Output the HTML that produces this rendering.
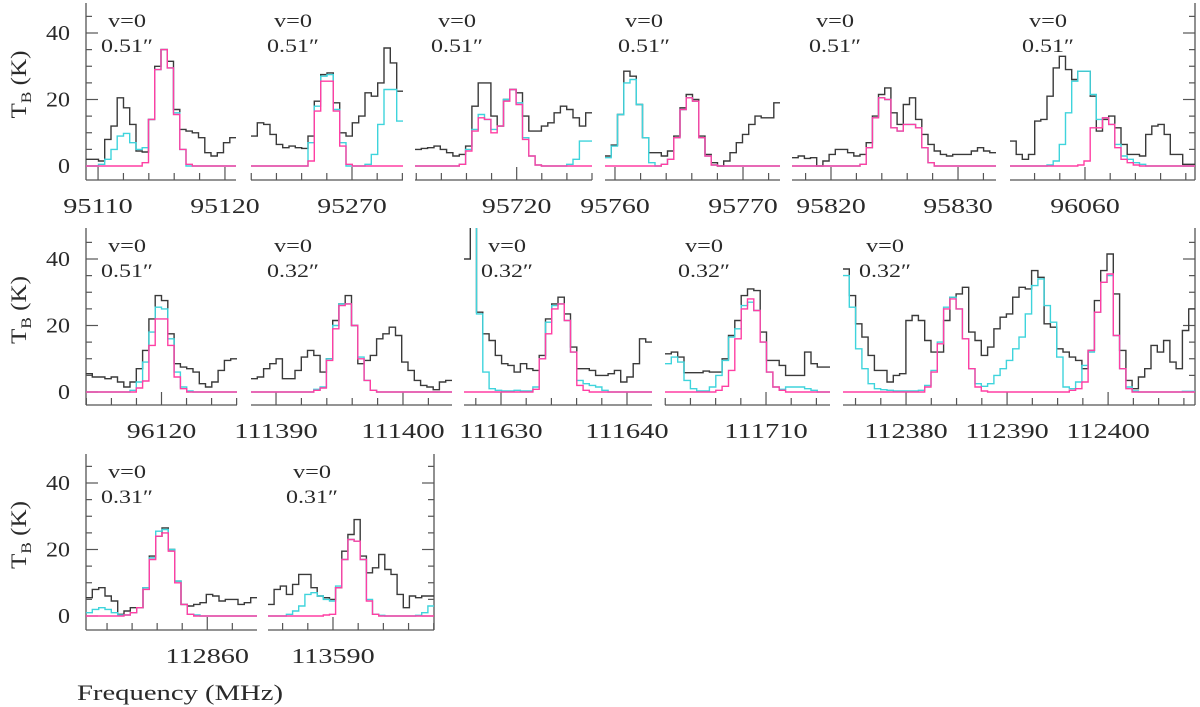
<!DOCTYPE html>
<html><head><meta charset="utf-8"><title>Spectra</title>
<style>html,body{margin:0;padding:0;background:#fff}svg{display:block}text{font-family:"Liberation Serif",serif;fill:#2a2a2a}</style>
</head><body>
<svg id="chart" width="1200" height="707" viewBox="0 0 1200 707" xmlns="http://www.w3.org/2000/svg">
<g id="axes-layer"></g>
<g id="data-layer"></g>
<g id="text-layer"></g>
<text x="77" y="700" font-size="22" textLength="206" lengthAdjust="spacingAndGlyphs">Frequency (MHz)</text>
</svg>
<script>
// ---- data (K) per panel: observed, cyan model, pink model ----
const r1p1Obs=[2,2,1.5,8,12,20.5,17.5,12.5,4.5,4.2,14,30,35,31.5,17,11,10.5,10,8.5,4,3,4,7,8.5];
const r1p1Cyan=[0,0,0.5,2,5,9,9.8,7,5,5.5,14,29,35,29.5,16,5,0,0,0,0,0,0,0,0];
const r1p1Pink=[0,0,0,0,0,0,0,0,0,1,14,29,35,29.5,15.5,5,0.5,0,0,0,0,0,0,0];
const r1p2Obs=[9,13,12.5,9.5,6.5,5.5,6,5.5,5.3,9,19.5,27.5,28,19,10,9,13,15,22,21,25,35.5,31,22.5];
const r1p2Cyan=[0,0,0,0,0,0,0,0,0,7,18,27,27.5,17,7,0,0,0,0.5,3.5,12.5,23,23,13.5];
const r1p2Pink=[0,0,0,0,0,0,0,0,0,1.5,16.5,25.5,25.5,16.5,6,0.5,0,0,0,0,0,0,0,0];
const r1p3Obs=[5,5.3,5.5,6,5,4,3,3.5,6,18,25,25,15,12,20,23,22,15,10.5,10.5,12,13,16,18,17,14.5,12,16];
const r1p3Cyan=[0,0,0,0,0,0,0,0.5,5,11,15.5,14,11,12,20,23,19,8.5,3,0.3,0,0,0,0,0.5,2,7.5,7.5];
const r1p3Pink=[0,0,0,0,0,0,0,0.5,4.5,10.5,14.5,14,10,12,19.5,23,18.5,8,3,0.3,0,0,0,0,0,0,0,0];
const r1p4Obs=[3,6.3,15.5,28.5,27,18.5,8.5,4,4,3,4.5,9,17.5,21.5,20,9,3.5,1,0,1.5,4,7,9.5,12.5,15,14.5,14.5,19];
const r1p4Cyan=[2.5,6,15.5,25,26,18.5,8.5,1,0,0.5,2,8.5,17,20.5,19.5,8.5,3,0.3,0,0,0,0,0,0,0,0,0,0];
const r1p4Pink=[0,0,0,0,0,0,0,0,0,0.5,2,8.5,17,20.5,19.5,8.5,3,0.3,0,0,0,0,0,0,0,0,0,0];
const r1p5Obs=[2.5,3,2.3,2.5,0,1.5,3.5,5,5,4,3,3.5,7,15,21.5,23.5,16,12.5,18.5,20.5,14,9.5,6.5,4.5,3.5,3,3.5,3.5,3.5,4.5,5.5,4.5,4];
const r1p5Cyan=[0,0,0,0,0,0,0,0,0,0,0,0.5,5.5,14.5,20.5,20,11.5,10.5,12.5,12.5,11.5,5.5,1,0,0,0,0,0,0,0,0,0,0];
const r1p5Pink=[0,0,0,0,0,0,0,0,0,0,0,0.5,5.5,14.5,20.5,20,11.5,10.5,12.5,12.5,11.5,5.5,1,0,0,0,0,0,0,0,0,0,0];
const r1p6Obs=[7.5,3.5,2,3.5,13.5,14,21,29.5,33,29,26,28.5,28.5,21,10.5,14,15,11.5,6.5,3.5,3.5,3,9.5,12,12.5,9.5,3.5,3.5,0.5,0.5];
const r1p6Cyan=[0,0,0,0,0,0,0.3,1.5,6.5,16,25.5,28.5,28.5,21.5,14,14.5,12.5,6.5,3,2,1,0.5,0,0,0,0,0,0,0,0];
const r1p6Pink=[0,0,0,0,0,0,0,0,0,0,0,0.3,1.5,11.5,11.5,14.5,12.5,5.5,2,1,0.3,0,0,0,0,0,0,0,0,0];
const r2p1Obs=[5.5,4.5,4.5,4,4.5,3,1.5,3,7,12.5,22,29,27.5,17.5,8.5,7.5,7,6,2.5,1.5,3,6.5,9.5,10];
const r2p1Cyan=[0,0,0,0,0,0,0,0.5,3,9,18,25.5,25,16,6,1.5,0.3,0,0,0,0,0,0,0];
const r2p1Pink=[0,0,0,0,0,0,0,0,1.2,3.3,14,22,22,14,4.5,1,0,0,0,0,0,0,0,0];
const r2p2Obs=[4,4.5,7,8.5,10,4,4,6.5,10.5,12.5,11,6,10,21.5,26.5,29,20,8.5,9.5,11,16,17.5,19.5,17,9,6.5,3.5,2,1.5,0.7,3,3.5];
const r2p2Cyan=[0,0,0,0,0,0,0,0,0,0,0.8,1.5,10,20,26.5,26.5,20,10.5,3.5,0.5,0,0,0,0,0,0,0,0,0,0,0,0];
const r2p2Pink=[0,0,0,0,0,0,0,0,0,0,0.5,1.2,9.5,19,26,26.5,20,10,3.5,0.5,0,0,0,0,0,0,0,0,0,0,0,0];
const r2p3Obs=[40,60,24,17.5,15.5,11,8.5,8,6,8.5,7,6.5,11,22,26.5,28.5,23.5,13.5,7,7,6.5,5,5,5.5,6.5,3,4.5,8.5,16,15];
const r2p3Cyan=[60,60,23.5,6,1,0.5,0.3,0.3,0.5,0.3,0.3,1.5,10,21,26,26.5,21.5,12,3.5,2.5,2,1.5,0.5,0,0,0,0,0,0,0];
const r2p3Pink=[0,0,0,0,0,0,0,0,0,0,0,0.8,10,17.5,25,26.5,21.5,12,2,0.5,0,0,0,0,0,0,0,0,0,0];
const r2p4Obs=[11.5,12,10.5,5.8,5.8,5.8,6.3,6,6,10,17,21.5,29,31,30.5,18,9.5,9.5,8,5,5,5,12,8.5,7.5,7.5];
const r2p4Cyan=[8.5,10.5,9,3.5,1,0.3,0.3,1.5,5,9.5,16.5,19,26,27,24.5,15,6,1.5,0.8,1.5,1.5,1.5,1,0.5,0,0];
const r2p4Pink=[0,0,0,0,0,0,0,0,0.5,1.7,6.5,16,25,28,24.5,15,6,1.5,0.5,0,0,0,0,0,0,0];
const r2p5Obs=[37,29,20.5,16.5,11,6.5,6.5,3,5,5.5,21.5,23,21.5,15.5,12,12,21.5,28.5,29.5,31.5,18,15.5,11,13.5,19,22.5,23.5,28.5,31.5,31,36.5,34.5,20.5,19.5,13,12,10.5,9.5,7,12.5,27.5,36.5,41.5,29.5,12.5,3.5,1,4.5,7,14,12,15.5,9,7,18.5,25];
const r2p5Cyan=[35,25.5,13,7,2.5,1,0.7,0.5,0.3,0.3,0.3,0.3,0.5,2,6.5,15,25.5,28.5,25,16,7,2.5,1.7,2.5,5,7,9.5,13,16.5,23.5,32,34,26,21,10.5,1.5,1,3,8,12,24,33,35,17,7,1.5,0.3,0,0,0,0,0,0,0,0.2,0.2];
const r2p5Pink=[0,0,0,0,0,0,0,0,0,0,0,0,0,1.5,6,14.5,25,28,25,16,7,1.5,0.3,0,0,0,0,0,0,0,0,0,0,0,0,0,0.5,1,3,12.5,24,33,35.5,17,7,1,0,0,0,0,0,0,0,0,0,0];
const r3p1Obs=[5.5,8,8.5,6,4.5,0.5,1.5,2.5,2.5,8.5,18,24,26.5,20,10.5,3.5,3,3.5,4,6.5,6,4.5,5,5,3.5,4,5.5];
const r3p1Cyan=[1,2,2.5,2,1,0.3,0.3,1,2.5,8.5,17.5,25.5,26,20,10.5,3.5,0.5,0.3,0,0,0,0,0,0,0,0,0];
const r3p1Pink=[0,0,0,0,0,0,0.3,1,2.5,8,17,24,25,19.5,10,3.5,0.5,0,0,0,0,0,0,0,0,0,0];
const r3p2Obs=[3.5,8,9,6.5,9.5,12.5,12.5,8.5,6,5.5,5,8.5,19.5,24.5,29,18,13,14.5,18.5,14,12.5,6.5,2.5,6,5.5,6,6];
const r3p2Cyan=[0,0,0,0.5,1.5,3,6.5,7,6,5,4.5,9,17,23,22.5,17,5,0.5,0.2,0,0,0,0,0,0.2,1,3];
const r3p2Pink=[0,0,0,0,0,0,0,0,0,0.3,0.5,8.5,17,23,22.5,17,4.5,0.5,0,0,0,0,0,0,0,0,0];
const yTickLabels=[0,20,40];
const panelVlabel=["v=0","v=0","v=0","v=0","v=0","v=0","v=0","v=0","v=0","v=0","v=0","v=0","v=0"];
const panelBeam=["0.51″","0.51″","0.51″","0.51″","0.51″","0.51″","0.51″","0.32″","0.32″","0.32″","0.32″","0.31″","0.31″"];

// ---- layout ----
const rows=[{zero:166,bottom:180,top:3},{zero:392,bottom:405,top:228},{zero:616,bottom:630,top:454}];
const KPX=3.325, YMAX=49;
const panels=[
 {row:0,x0:86,x1:236,fmin:95109.05,fmax:95120.87,minor:2,tx:127,first:true,obs:r1p1Obs,cy:r1p1Cyan,pk:r1p1Pink},
 {row:0,x0:251,x1:403,fmin:95261.98,fmax:95274.05,minor:2,tx:293,obs:r1p2Obs,cy:r1p2Cyan,pk:r1p2Pink},
 {row:0,x0:415,x1:592,fmin:95711.9,fmax:95726.0,minor:2,tx:457,obs:r1p3Obs,cy:r1p3Cyan,pk:r1p3Pink},
 {row:0,x0:605,x1:780,fmin:95759.22,fmax:95772.89,minor:2,tx:644,obs:r1p4Obs,cy:r1p4Cyan,pk:r1p4Pink},
 {row:0,x0:792,x1:996,fmin:95816.93,fmax:95832.99,minor:2,tx:835,obs:r1p5Obs,cy:r1p5Cyan,pk:r1p5Pink},
 {row:0,x0:1010,x1:1195,fmin:96054.05,fmax:96068.73,minor:2,tx:1048,last:true,obs:r1p6Obs,cy:r1p6Cyan,pk:r1p6Pink},
 {row:1,x0:86,x1:237,fmin:96113.97,fmax:96126.03,minor:2,tx:127,first:true,obs:r2p1Obs,cy:r2p1Cyan,pk:r2p1Pink},
 {row:1,x0:251,x1:452,fmin:111388.03,fmax:111403.86,minor:2,tx:293,obs:r2p2Obs,cy:r2p2Cyan,pk:r2p2Pink},
 {row:1,x0:464,x1:652,fmin:111625.0,fmax:111640.0,minor:2,tx:507,obs:r2p3Obs,cy:r2p3Cyan,pk:r2p3Pink},
 {row:1,x0:665,x1:830,fmin:111701.98,fmax:111715.08,minor:2,tx:704,obs:r2p4Obs,cy:r2p4Cyan,pk:r2p4Pink},
 {row:1,x0:843,x1:1195,fmin:112373.76,fmax:112408.6,minor:2.5,tx:885,last:true,obs:r2p5Obs,cy:r2p5Cyan,pk:r2p5Pink},
 {row:2,x0:86,x1:257,fmin:112850.32,fmax:112863.97,minor:2,tx:127,first:true,obs:r3p1Obs,cy:r3p1Cyan,pk:r3p1Pink},
 {row:2,x0:268,x1:434,fmin:113584.84,fmax:113598.02,minor:2,tx:312,last:true,obs:r3p2Obs,cy:r3p2Cyan,pk:r3p2Pink}
];
panels[8].fmin=111630-(501-464)/12.6; panels[8].fmax=111630+(652-501)/12.6;

const NS='http://www.w3.org/2000/svg';
const axesL=document.getElementById('axes-layer');
const dataL=document.getElementById('data-layer');
const textL=document.getElementById('text-layer');
const svg=document.getElementById('chart');
const defs=document.createElementNS(NS,'defs');svg.insertBefore(defs,svg.firstChild);
function mk(tag,attrs,parent){const e=document.createElementNS(NS,tag);for(const k in attrs)e.setAttribute(k,attrs[k]);parent.appendChild(e);return e;}
const AX='#555';

panels.forEach((p,pi)=>{
  const r=rows[p.row];
  const xs=f=>p.x0+(f-p.fmin)/(p.fmax-p.fmin)*(p.x1-p.x0);
  const ys=v=>r.zero-v*KPX;
  const ax=mk('line',{x1:p.x0,y1:r.bottom,x2:p.x1,y2:r.bottom,stroke:AX,'stroke-width':1.3},axesL);
  
  
  const k0=Math.ceil(p.fmin/p.minor-1e-9), k1=Math.floor(p.fmax/p.minor+1e-9);
  for(let k=k0;k<=k1;k++){
    const f=k*p.minor; const major=Math.abs(f/10-Math.round(f/10))<1e-6;
    const x=xs(f);
    const t=mk('line',{x1:x,y1:r.bottom,x2:x,y2:r.bottom-(major?13:7),stroke:AX,'stroke-width':1.2},axesL);
    
    
    if(major){
      const s=String(Math.round(f));
      const tl=mk('text',{x:x,y:r.bottom+33,'font-size':21,'text-anchor':'middle',textLength:s.length*13.9,lengthAdjust:'spacingAndGlyphs'},textL);
      tl.textContent=s;
      
      
    }
  }
  const yAxes=[];
  if(p.first) yAxes.push([p.x0,1]);
  if(p.last) yAxes.push([p.x1,-1]);
  yAxes.forEach(([xa,dir])=>{
    const yl=mk('line',{x1:xa,y1:r.top,x2:xa,y2:r.bottom,stroke:AX,'stroke-width':1.3},axesL);
    
    
    for(let v=0;v<=YMAX;v+=5){
      const major=v%20===0; const y=ys(v);
      const t=mk('line',{x1:xa,y1:y,x2:xa+dir*(major?12:6),y2:y,stroke:AX,'stroke-width':1.2},axesL);
      
      
    }
    if(dir>0){
      yTickLabels.forEach(v=>{
        const s=String(v);
        const tl=mk('text',{x:70,y:ys(v)+7,'font-size':21,'text-anchor':'end',textLength:s.length*12,lengthAdjust:'spacingAndGlyphs'},textL);
        tl.textContent=s;
        
        
      });
      const cy=(r.top+r.zero)/2;
      const yt=mk('text',{x:0,y:0,'font-size':22,transform:'translate(26,'+cy+') rotate(-90)','text-anchor':'middle',textLength:68,lengthAdjust:'spacingAndGlyphs'},textL);
      
      
      const t1=mk('tspan',{},yt);t1.textContent='T';
      const t2=mk('tspan',{'font-size':15,dy:5},yt);t2.textContent='B';
      const t3=mk('tspan',{dy:-5},yt);t3.textContent=' (K)';
    }
  });
  const cp=mk('clipPath',{id:'clip'+pi},defs);
  mk('rect',{x:p.x0,y:r.top,width:p.x1-p.x0,height:r.bottom-r.top},cp);
  const g=mk('g',{'clip-path':'url(#clip'+pi+')'},dataL);
  
  
  const series=[[p.obs,'#3a3a3a','observed'],[p.cy,'#3fd4dc','model-cyan'],[p.pk,'#ff3fa3','model-pink']];
  series.forEach(([vals,col,nm])=>{
    const n=vals.length, w=(p.fmax-p.fmin)/n;
    let d='';
    vals.forEach((v,i)=>{
      const xa=xs(p.fmin+i*w), xb=xs(p.fmin+(i+1)*w), y=ys(v);
      d+=(i===0?'M'+xa.toFixed(1)+' '+y.toFixed(1):'V'+y.toFixed(1))+'H'+xb.toFixed(1);
    });
    const path=mk('path',{d:d,fill:'none',stroke:col,'stroke-width':1.4},g);
    
    
  });
  const a1=mk('text',{x:p.tx,y:r.top+24,'font-size':19,'text-anchor':'middle',textLength:38,lengthAdjust:'spacingAndGlyphs'},textL);
  a1.textContent=panelVlabel[pi];
  
  
  const a2=mk('text',{x:p.tx,y:r.top+49,'font-size':19,'text-anchor':'middle',textLength:52,lengthAdjust:'spacingAndGlyphs'},textL);
  a2.textContent=panelBeam[pi];
  
  
});
</script>
</body></html>
